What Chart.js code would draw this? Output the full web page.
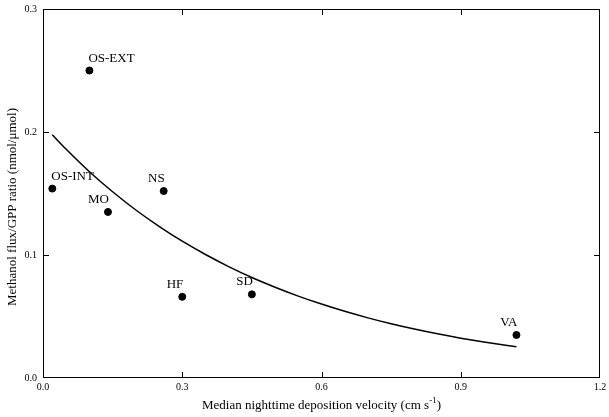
<!DOCTYPE html>
<html>
<head>
<meta charset="utf-8">
<script src="https://cdn.jsdelivr.net/npm/chart.js@4/dist/chart.umd.min.js"></script>
<style>
  html, body { margin: 0; padding: 0; background: #fff; }
  canvas { display: block; }
</style>
</head>
<body>
<canvas id="chart" width="609" height="417"></canvas>
<script>
// sites and their values
const sites = ['OS-EXT', 'OS-INT', 'MO', 'NS', 'HF', 'SD', 'VA'];
const velocity = [0.10, 0.02, 0.14, 0.26, 0.30, 0.45, 1.02];
const ratio = [0.250, 0.154, 0.135, 0.152, 0.066, 0.068, 0.035];

// fitted curve
const curveX = [0.02, 0.05, 0.1, 0.15, 0.2, 0.25, 0.3, 0.35, 0.4, 0.45, 0.5,
                0.55, 0.6, 0.65, 0.7, 0.75, 0.8, 0.85, 0.9, 0.95, 1.02];
const curveY = [0.1977, 0.1859, 0.1677, 0.1514, 0.1366, 0.1233, 0.1112, 0.1004, 0.0906, 0.0817, 0.0738,
                0.0666, 0.0601, 0.0542, 0.0489, 0.0441, 0.0398, 0.0359, 0.0324, 0.0293, 0.0254];

const xTicks = [0, 0.3, 0.6, 0.9, 1.2];
const yTicks = [0, 0.1, 0.2, 0.3];

const leftLabels = ['OS-EXT', 'OS-INT'];
const serif = '"Liberation Serif", "Times New Roman", serif';

const framePlugin = {
    id: 'frame',
    afterDraw(chart) {
        const ctx = chart.ctx;
        const a = chart.chartArea;
        const xs = chart.scales.x, ys = chart.scales.y;
        ctx.save();
        ctx.strokeStyle = '#000';
        ctx.lineWidth = 1;
        ctx.strokeRect(a.left + 0.5, a.top + 0.5, a.right - a.left - 1, a.bottom - a.top - 1);
        ctx.beginPath();
        xTicks.slice(1, -1).forEach(v => {
            const px = Math.round(xs.getPixelForValue(v)) + 0.5;
            ctx.moveTo(px, a.bottom); ctx.lineTo(px, a.bottom - 6);
            ctx.moveTo(px, a.top); ctx.lineTo(px, a.top + 6);
        });
        yTicks.slice(1, -1).forEach(v => {
            const py = Math.round(ys.getPixelForValue(v)) + 0.5;
            ctx.moveTo(a.left, py); ctx.lineTo(a.left + 6, py);
            ctx.moveTo(a.right, py); ctx.lineTo(a.right - 6, py);
        });
        ctx.stroke();

        // axis titles
        ctx.fillStyle = '#000';
        ctx.font = '13px ' + serif;
        ctx.textBaseline = 'alphabetic';
        const main = 'Median nighttime deposition velocity (cm s';
        const supTxt = '-1';
        const tail = ')';
        const w1 = ctx.measureText(main).width;
        ctx.font = '9px ' + serif;
        const w2 = ctx.measureText(supTxt).width;
        ctx.font = '13px ' + serif;
        const w3 = ctx.measureText(tail).width;
        let x0 = (a.left + a.right) / 2 - (w1 + w2 + w3) / 2;
        const by = 409;
        ctx.textAlign = 'left';
        ctx.fillText(main, x0, by);
        ctx.font = '9px ' + serif;
        ctx.fillText(supTxt, x0 + w1, by - 6);
        ctx.font = '13px ' + serif;
        ctx.fillText(tail, x0 + w1 + w2, by);

        ctx.save();
        ctx.translate(16, 207);
        ctx.rotate(-Math.PI / 2);
        ctx.textAlign = 'center';
        ctx.fillText('Methanol flux/GPP ratio (nmol/\u03bcmol)', 0, 0);
        ctx.restore();
        ctx.restore();
    }
};

const labelPlugin = {
    id: 'siteLabels',
    afterDatasetsDraw(chart) {
        const ctx = chart.ctx;
        const meta = chart.getDatasetMeta(1);
        ctx.save();
        ctx.fillStyle = '#000';
        ctx.font = '13px ' + serif;
        ctx.textBaseline = 'alphabetic';
        meta.data.forEach((pt, i) => {
            const name = sites[i];
            const left = leftLabels.includes(name);
            ctx.textAlign = left ? 'left' : 'right';
            ctx.fillText(name, pt.x + (left ? -1 : 1), pt.y - 9);
        });
        ctx.restore();
    }
};

new Chart(document.getElementById('chart'), {
    data: {
        datasets: [
            {
                type: 'line',
                data: curveX.map((x, i) => ({ x: x, y: curveY[i] })),
                borderColor: '#000',
                borderWidth: 1.5,
                pointRadius: 0,
                cubicInterpolationMode: 'monotone',
                fill: false
            },
            {
                type: 'scatter',
                data: velocity.map((x, i) => ({ x: x, y: ratio[i] })),
                backgroundColor: '#000',
                borderColor: '#000',
                pointRadius: 3.5
            }
        ]
    },
    options: {
        responsive: false,
        animation: false,
        layout: { padding: { top: 9, right: 9, left: 0, bottom: 0 } },
        plugins: { legend: { display: false }, tooltip: { enabled: false } },
        scales: {
            x: {
                type: 'linear',
                min: 0, max: 1.2,
                grid: { display: false, drawTicks: false },
                border: { display: false },
                afterBuildTicks: s => { s.ticks = xTicks.map(v => ({ value: v })); },
                afterFit: s => { s.height = 39; s.paddingLeft = 0; s.paddingRight = 0; },
                ticks: {
                    color: '#000',
                    padding: 3,
                    maxRotation: 0,
                    font: { family: serif, size: 10 },
                    callback: v => Number(v).toFixed(1)
                }
            },
            y: {
                min: 0, max: 0.3,
                grid: { display: false, drawTicks: false },
                border: { display: false },
                afterBuildTicks: s => { s.ticks = yTicks.map(v => ({ value: v })); },
                afterFit: s => { s.width = 43; s.paddingTop = 0; s.paddingBottom = 0; },
                ticks: {
                    color: '#000',
                    padding: 6,
                    font: { family: serif, size: 10 },
                    callback: v => Number(v).toFixed(1)
                }
            }
        }
    },
    plugins: [framePlugin, labelPlugin]
});
</script>
</body>
</html>
